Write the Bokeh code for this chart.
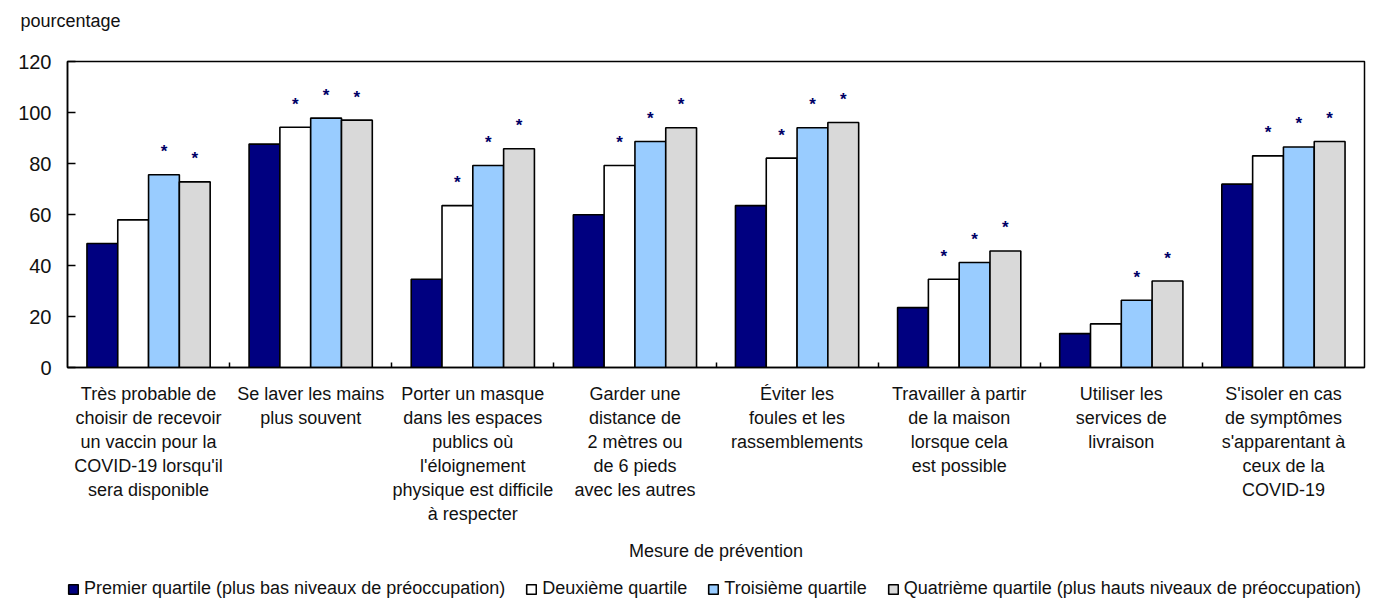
from bokeh.plotting import figure
from bokeh.layouts import column
from bokeh.models import (ColumnDataSource, Range1d, FixedTicker, Title, Legend, LegendItem)
from bokeh.core.properties import value
from bokeh.embed import file_html
from bokeh.resources import INLINE

categories = [
    "Très probable de\nchoisir de recevoir\nun vaccin pour la\nCOVID-19 lorsqu'il\nsera disponible",
    "Se laver les mains\nplus souvent",
    "Porter un masque\ndans les espaces\npublics où\nl'éloignement\nphysique est difficile\nà respecter",
    "Garder une\ndistance de\n2 mètres ou\nde 6 pieds\navec les autres",
    "Éviter les\nfoules et les\nrassemblements",
    "Travailler à partir\nde la maison\nlorsque cela\nest possible",
    "Utiliser les\nservices de\nlivraison",
    "S'isoler en cas\nde symptômes\ns'apparentant à\nceux de la\nCOVID-19",
]

series_names = [
    "Premier quartile (plus bas niveaux de préoccupation)",
    "Deuxième quartile",
    "Troisième quartile",
    "Quatrième quartile (plus hauts niveaux de préoccupation)",
]

q1 = [48.6, 87.6, 34.6, 59.9, 63.5, 23.5, 13.3, 71.9]
q2 = [57.9, 94.2, 63.5, 79.2, 82.1, 34.6, 17.1, 83.0]
q3 = [75.6, 97.8, 79.2, 88.6, 94.0, 41.2, 26.4, 86.5]
q4 = [72.8, 97.0, 85.8, 94.0, 96.1, 45.7, 33.9, 88.6]

# significant difference from the first quartile (marked with *)
sig2 = [False, True, True, True, True, True, False, True]
sig3 = [True, True, True, True, True, True, True, True]
sig4 = [True, True, True, True, True, True, True, True]

y_ticks = [0, 20, 40, 60, 80, 100, 120]

colors = ["#000080", "#FFFFFF", "#99CCFF", "#D9D9D9"]
FONT = "Liberation Sans"
TXT = "#111111"
W = 1382

BAR_W = 0.19
STAR_GAP = 11

centers = [i + 0.5 for i in range(len(categories))]
all_series = [q1, q2, q3, q4]
sigs = [None, sig2, sig3, sig4]


def strip(height, y_range):
    f = figure(width=W, height=height, output_backend="svg", toolbar_location=None,
               x_range=Range1d(0, len(categories)), y_range=y_range,
               x_axis_location=None, y_axis_location=None,
               min_border_left=0, min_border_right=0, min_border_top=0, min_border_bottom=0)
    f.xgrid.visible = False
    f.ygrid.visible = False
    f.outline_line_color = None
    return f


# ---- top strip: unit title
top = strip(45, Range1d(0, 1))
top.add_layout(Title(text="pourcentage", align="left", offset=-47, standoff=20,
                     vertical_align="top", text_font=FONT, text_font_size="18px",
                     text_font_style="normal", text_color=TXT), "above")

# ---- main chart
p = figure(width=W, height=526, output_backend="svg", toolbar_location=None,
           x_range=Range1d(0, len(categories)), y_range=Range1d(0, 120),
           min_border_left=67, min_border_right=18, min_border_top=16, min_border_bottom=204)
p.xgrid.visible = False
p.ygrid.visible = False
p.outline_line_color = "black"
p.outline_line_width = 1.5

for k, (vals, col) in enumerate(zip(all_series, colors)):
    xs = [c + (k - 1.5) * BAR_W for c in centers]
    src = ColumnDataSource(dict(x=xs, top=vals))
    p.vbar(x="x", top="top", width=BAR_W, bottom=0, source=src,
           fill_color=col, line_color="black", line_width=1.6)
    if sigs[k] is not None:
        sx = [x for x, s in zip(xs, sigs[k]) if s]
        sy = [v + STAR_GAP for v, s in zip(vals, sigs[k]) if s]
        p.text(x=sx, y=sy, text=["*"] * len(sx), text_align="center",
               text_baseline="middle", text_font=value(FONT),
               text_font_size="17px", text_font_style="bold", text_color="#000066",
               y_offset=5)

p.xaxis.ticker = FixedTicker(ticks=centers, minor_ticks=list(range(1, len(categories))))
p.xaxis.major_label_overrides = {c: lab for c, lab in zip(centers, categories)}
p.xaxis.major_tick_line_color = None
p.xaxis.minor_tick_in = 5
p.xaxis.minor_tick_out = 0
p.xaxis.minor_tick_line_color = "black"
p.xaxis.minor_tick_line_width = 1.5
p.xaxis.axis_line_color = "black"
p.xaxis.axis_line_width = 1.5
p.xaxis.major_label_text_font = FONT
p.xaxis.major_label_text_font_size = "18px"
p.xaxis.major_label_text_color = TXT
p.xaxis.major_label_text_line_height = 1.2
p.xaxis.major_label_standoff = 10
p.xaxis.axis_label = "Mesure de prévention"
p.xaxis.axis_label_text_font = FONT
p.xaxis.axis_label_text_font_size = "18px"
p.xaxis.axis_label_text_font_style = "normal"
p.xaxis.axis_label_text_color = TXT
p.xaxis.axis_label_standoff = 14

p.yaxis.ticker = FixedTicker(ticks=y_ticks, minor_ticks=[])
p.yaxis.major_tick_in = 8
p.yaxis.major_tick_out = 0
p.yaxis.major_tick_line_width = 1.5
p.yaxis.major_tick_line_color = "black"
p.yaxis.axis_line_width = 1.5
p.yaxis.major_label_text_font = FONT
p.yaxis.major_label_text_font_size = "20px"
p.yaxis.major_label_text_color = TXT
p.yaxis.major_label_standoff = 16

# ---- bottom strip: legend (hidden proxy bars only supply the swatches)
bot = strip(30, Range1d(200, 300))
proxies = []
for vals, col in zip(all_series, colors):
    r = bot.vbar(x=centers, top=vals, width=BAR_W, fill_color=col,
                 line_color="black", line_width=1.6)
    r.visible = False
    proxies.append(r)
legend = Legend(items=[LegendItem(label=n, renderers=[r]) for n, r in zip(series_names, proxies)],
                location=(0, 2), orientation="horizontal", glyph_width=12, glyph_height=12,
                label_standoff=5, spacing=20, padding=0, margin=0, border_line_color=None,
                background_fill_alpha=0, inactive_fill_alpha=0, label_text_font=FONT,
                label_text_font_size="18px", label_text_color=TXT, label_height=20)
bot.add_layout(legend, "center")

layout = column(top, p, bot, spacing=0)
open("out.html", "w").write(file_html(layout, INLINE))
